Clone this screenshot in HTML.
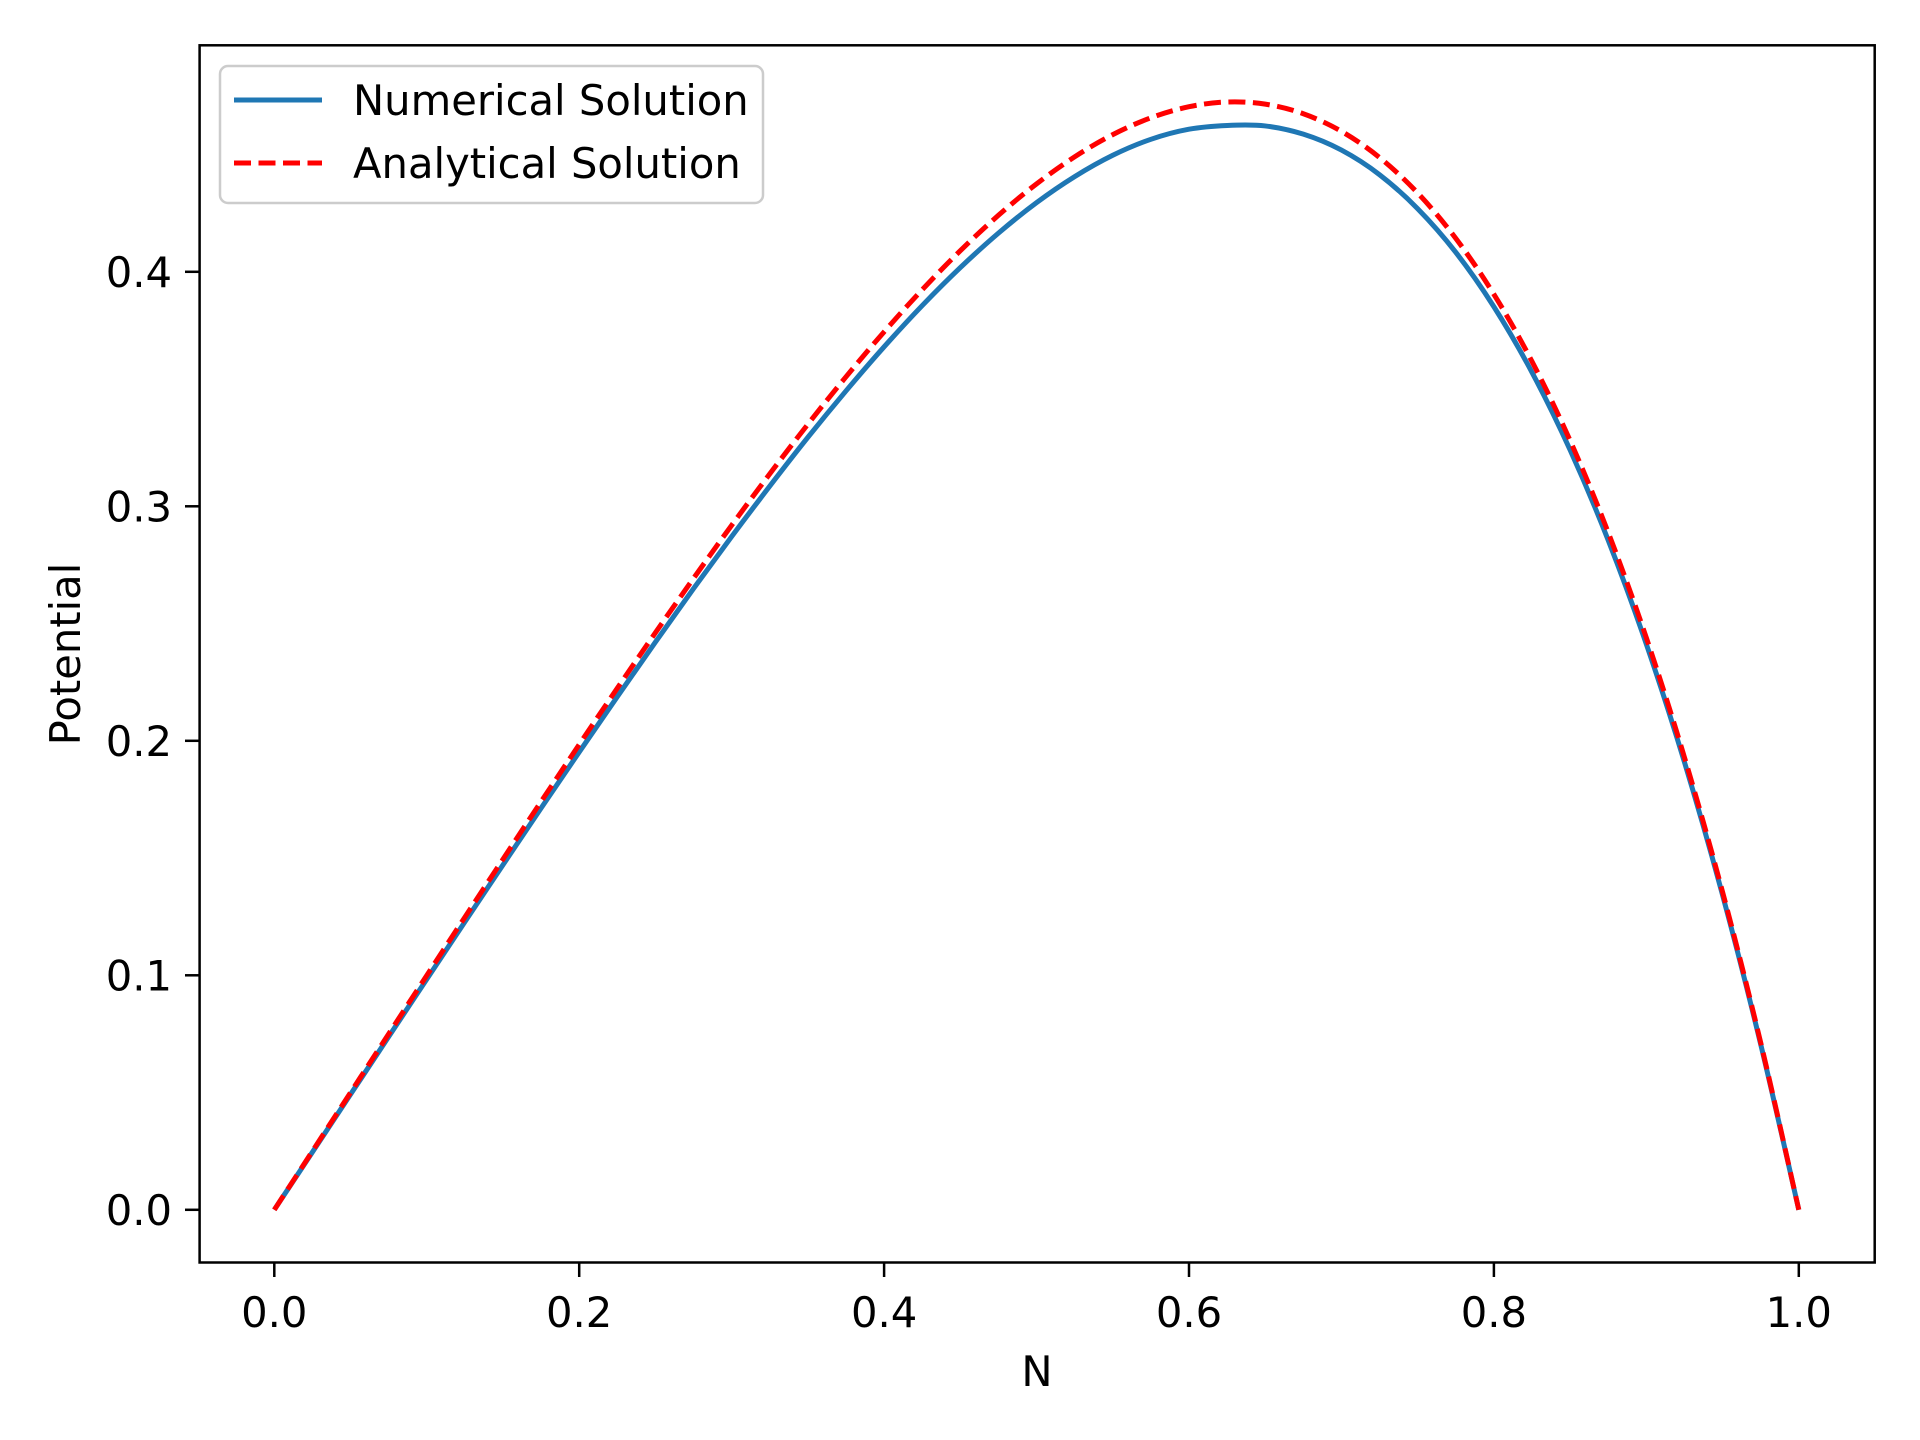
<!DOCTYPE html>
<html><head><meta charset="utf-8"><style>
html,body{margin:0;padding:0;background:#fff}
svg{display:block}
text{font-family:"DejaVu Sans","Liberation Sans",sans-serif;fill:#000}
</style></head><body>
<svg id="chart" width="1920" height="1440" viewBox="0 0 1920 1440">
<rect x="0" y="0" width="1920" height="1440" fill="#fff"/>
<g id="plot"></g>
<rect x="199.6" y="45.3" width="1675.1" height="1217.2" fill="none" stroke="#000" stroke-width="2.5"/>
<g id="ticks"></g>
<text x="1037" y="1386" font-size="41.7" text-anchor="middle">N</text>
<text transform="translate(80,654) rotate(-90)" font-size="41.7" text-anchor="middle">Potential</text>
<g>
<rect x="220" y="66" width="543" height="137" rx="8" fill="#fff" fill-opacity="0.8" stroke="#ccc" stroke-width="2.5"/>
<line x1="234" y1="100" x2="322" y2="100" stroke="#1f77b4" stroke-width="5"/>
<text x="353" y="115" font-size="41.7">Numerical Solution</text>
<line x1="234" y1="163" x2="322" y2="163" stroke="#ff0000" stroke-width="5" stroke-dasharray="17,7.5"/>
<text x="353" y="178" font-size="41.7">Analytical Solution</text>
</g>
</svg>
<script>
const xValues = [0,0.025,0.05,0.075,0.1,0.125,0.15,0.175,0.2,0.225,0.25,0.275,0.3,0.325,0.35,0.375,0.4,0.425,0.45,0.475,0.5,0.525,0.55,0.575,0.6,0.625,0.65,0.675,0.7,0.725,0.75,0.775,0.8,0.825,0.85,0.875,0.9,0.925,0.95,0.975,1.0];
const analyticalValues = [0,0.0250,0.04999,0.07497,0.0999,0.12476,0.1495,0.17406,0.1984,0.22244,0.2461,0.26928,0.2919,0.31384,0.3350,0.35522,0.3744,0.39237,0.4090,0.42409,0.4375,0.44903,0.4585,0.46569,0.4704,0.47241,0.4715,0.46741,0.4599,0.44872,0.4336,0.41425,0.3904,0.36175,0.3280,0.28882,0.2439,0.19291,0.1355,0.07131,0];
const numericalValues = [0,0.0246,0.0492,0.0738,0.0983,0.1228,0.1471,0.1713,0.1952,0.2188,0.2421,0.2649,0.2871,0.3086,0.3294,0.3492,0.3680,0.3856,0.4018,0.4165,0.4295,0.4406,0.4497,0.4565,0.4608,0.4624,0.4622,0.4587,0.4519,0.4414,0.4269,0.4083,0.3851,0.3571,0.3240,0.2855,0.2412,0.1909,0.1342,0.0706,0];
const xTicks = [0,0.2,0.4,0.6,0.8,1.0];
const xTickLabels = ["0.0","0.2","0.4","0.6","0.8","1.0"];
const yTicks = [0,0.1,0.2,0.3,0.4];
const yTickLabels = ["0.0","0.1","0.2","0.3","0.4"];

const NS = "http://www.w3.org/2000/svg";
function xs(v){return 274.3 + v*(1798.8-274.3);}
function ys(v){return 1209.8 - v*2345;}
function pathFor(xsArr, ysArr){
  const p = xsArr.map((x,i)=>[xs(x), ys(ysArr[i])]);
  let d = "M"+p[0][0]+","+p[0][1];
  for(let i=0;i<p.length-1;i++){
    const p0=p[Math.max(0,i-1)], p1=p[i], p2=p[i+1], p3=p[Math.min(p.length-1,i+2)];
    const c1=[p1[0]+(p2[0]-p0[0])/6, p1[1]+(p2[1]-p0[1])/6];
    const c2=[p2[0]-(p3[0]-p1[0])/6, p2[1]-(p3[1]-p1[1])/6];
    d += " C"+c1[0]+","+c1[1]+" "+c2[0]+","+c2[1]+" "+p2[0]+","+p2[1];
  }
  return d;
}
const plot = document.getElementById("plot");
const num = document.createElementNS(NS,"path");
num.setAttribute("d", pathFor(xValues, numericalValues));
num.setAttribute("fill","none");
num.setAttribute("stroke","#1f77b4");
num.setAttribute("stroke-width","5");


plot.appendChild(num);
const ana = document.createElementNS(NS,"path");
ana.setAttribute("d", pathFor(xValues, analyticalValues));
ana.setAttribute("fill","none");
ana.setAttribute("stroke","#ff0000");
ana.setAttribute("stroke-width","5");
ana.setAttribute("stroke-dasharray","17,7.5");


plot.appendChild(ana);

const ticks = document.getElementById("ticks");
xTicks.forEach((v,i)=>{
  const l = document.createElementNS(NS,"line");
  l.setAttribute("x1",xs(v)); l.setAttribute("x2",xs(v));
  l.setAttribute("y1",1262.5); l.setAttribute("y2",1277);
  l.setAttribute("stroke","#000"); l.setAttribute("stroke-width","2.5");
  
  
  ticks.appendChild(l);
  const t = document.createElementNS(NS,"text");
  t.setAttribute("x",xs(v)); t.setAttribute("y",1327);
  t.setAttribute("font-size","41.7"); t.setAttribute("text-anchor","middle");
  t.textContent = xTickLabels[i];
  
  
  ticks.appendChild(t);
});
yTicks.forEach((v,i)=>{
  const l = document.createElementNS(NS,"line");
  l.setAttribute("x1",185); l.setAttribute("x2",199.6);
  l.setAttribute("y1",ys(v)); l.setAttribute("y2",ys(v));
  l.setAttribute("stroke","#000"); l.setAttribute("stroke-width","2.5");
  
  
  ticks.appendChild(l);
  const t = document.createElementNS(NS,"text");
  t.setAttribute("x",172); t.setAttribute("y",ys(v)+15);
  t.setAttribute("font-size","41.7"); t.setAttribute("text-anchor","end");
  t.textContent = yTickLabels[i];
  
  
  ticks.appendChild(t);
});
</script>
</body></html>
